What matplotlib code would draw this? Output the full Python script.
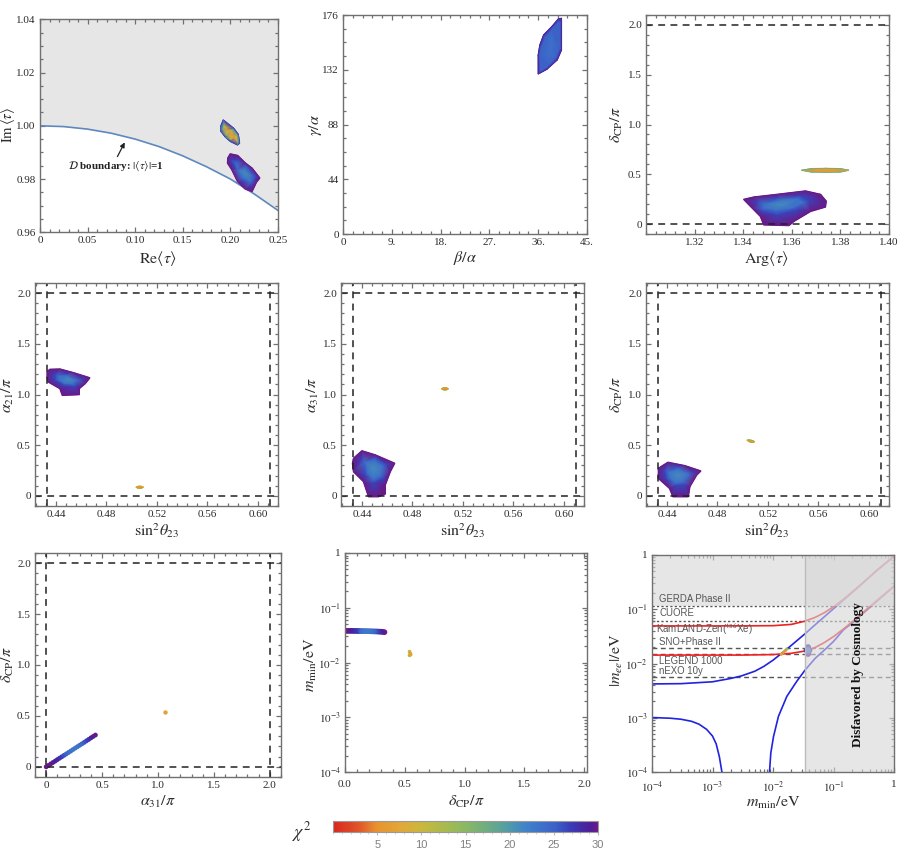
import matplotlib
matplotlib.use("Agg")
import matplotlib.pyplot as plt
import matplotlib.tri as mtri
import numpy as np
from matplotlib.colors import LinearSegmentedColormap
from matplotlib.patches import Polygon
from matplotlib.path import Path
from matplotlib.ticker import LogLocator, MultipleLocator, NullFormatter

plt.rcParams["font.family"] = ["Liberation Serif", "DejaVu Serif"]
plt.rcParams["mathtext.fontset"] = "stix"

W, H = 900, 857
GRAY = "#707070"
TXT = "#2b2b2b"

# colour scale of chi^2
chi_stops = [0, 3, 5, 8, 10, 13, 15, 18, 20, 22, 25, 27, 29, 30]
chi_cols = ["#d9261f", "#e0582a", "#e8942f", "#dfa93a", "#c9b83e", "#a4ba50", "#8bb863",
            "#68a98a", "#4f9aa8", "#3f80cc", "#3c63c8", "#3a3cb8", "#4a1f9a", "#6a1a88"]
cmap = LinearSegmentedColormap.from_list("chi", [(s / 30, c) for s, c in zip(chi_stops, chi_cols)])

# tau plane boundary
bd_re = [0, .025, .05, .075, .1, .125, .15, .175, .2, .225, .25]
bd_im = [1, .9997, .99875, .9972, .995, .9922, .9887, .9846, .98, .9744, .9682]

# each blob: rings of (x, y) from outside in, with a chi2 per ring
t_low_rings = [
    ([.1974, .1999, .2076, .2156, .2226, .2307, .2272, .2227, .2156, .2076, .2016, .1971],
     [.9879, .9894, .9888, .986, .9841, .9804, .9788, .9754, .9763, .9791, .9835, .986]),
    ([.2010, .2090, .2190, .2270, .2225, .2130, .2050],
     [.9870, .9870, .9845, .9808, .9780, .9792, .9840]),
    ([.2065, .2160, .2225, .2210, .2125, .2075], [.9858, .9842, .9815, .9790, .9805, .9835]),
    ([.2156], [.9825]),
]
t_low_chi = [30, 26.5, 23.5, 21]

t_up_rings = [
    ([.1925, .2034, .2083, .2097, .2075, .2, .1946, .19, .19],
     [1.0022, .9991, .9968, .9935, .9928, .9941, .9958, .9979, 1.0]),
    ([.1925, .2025, .2070, .2083, .2005, .1952, .1915],
     [1.0003, .9985, .9965, .9940, .9948, .9965, .9988]),
    ([.1938, .2018, .2062, .2072, .2005, .1955],
     [.9997, .9982, .9962, .9945, .9952, .9970]),
    ([.1965, .2000, .2030, .2045], [.9985, .9975, .9965, .9955]),
]
t_up_chi = [27, 18, 10, 5.5]

ba_rings = [
    ([36.0, 37.6, 39.5, 40.3, 40.3, 39.7, 38.5, 37.0, 36.3, 36.0],
     [128.6, 132.4, 139.9, 147.9, 173.4, 172.8, 166.6, 160.0, 151.9, 143.9]),
    ([36.4, 37.7, 39.3, 40.0, 40.0, 39.6, 38.5, 37.2, 36.6, 36.3],
     [131.0, 134.5, 141.5, 149.0, 170.0, 170.0, 164.5, 158.5, 151.0, 144.0]),
    ([38.2, 38.4], [145.0, 155.0]),
]
ba_chi = [29, 25, 23.5]

arg_low_rings = [
    ([1.3403, 1.3444, 1.354, 1.3656, 1.3718, 1.3741, 1.3738, 1.3677, 1.3608, 1.3588, 1.3485, 1.3471, 1.3437],
     [.247, .27, .297, .331, .297, .23, .172, .128, .027, -.014, -.007, .078, .162]),
    ([1.3458, 1.354, 1.3636, 1.367, 1.3622, 1.354, 1.3478],
     [.213, .264, .28, .23, .145, .095, .128]),
    ([1.349, 1.356, 1.3625, 1.3645, 1.360, 1.353, 1.3485],
     [.205, .245, .25, .215, .165, .14, .16]),
    ([1.3553], [.196]),
]
arg_low_chi = [30, 26.5, 23.5, 21]

arg_up_rings = [
    ([1.364, 1.368, 1.374, 1.38, 1.3835, 1.38, 1.374, 1.368],
     [.54, .558, .56, .558, .54, .522, .52, .522]),
    ([1.367, 1.370, 1.374, 1.378, 1.381, 1.370, 1.374, 1.378],
     [.54, .548, .548, .548, .54, .532, .532, .532]),
]
arg_up_chi = [17, 6]

a21_low_rings = [
    ([.4331, .4352, .4432, .4539, .4667, .4632, .4584, .4584, .4451, .4432, .4339, .4331],
     [1.224, 1.247, 1.25, 1.214, 1.164, 1.109, 1.059, 1.0, .993, 1.059, 1.125, 1.174]),
    ([.4392, .4485, .4605, .4552, .4459, .4392], [1.2, 1.2, 1.148, 1.082, 1.092, 1.141]),
    ([.4420, .4490, .4565, .4530, .4470, .4420], [1.18, 1.185, 1.14, 1.10, 1.105, 1.145]),
    ([.4499], [1.148]),
]
a21_low_chi = [30, 26.5, 23.5, 21]

a21_up_rings = [
    ([.5034, .5048, .5064, .508, .5094, .508, .5064, .5048],
     [.085, .094, .097, .094, .085, .076, .073, .076]),
    ([.5042, .5064, .5086, .5064], [.085, .093, .085, .077]),
]
a21_up_chi = [12, 5]

a31_low_rings = [
    ([.4334, .44, .4505, .4658, .4624, .4584, .4584, .4532, .4453, .4413, .4334, .4326],
     [.37, .443, .403, .321, .239, .108, .02, -.007, -.007, .141, .239, .321]),
    ([.4395, .4505, .4597, .4571, .4492, .4426], [.354, .38, .305, .174, .125, .207]),
    ([.4425, .4500, .4565, .4550, .4490, .4445], [.335, .35, .295, .20, .165, .22]),
    ([.4492], [.272]),
]
a31_low_chi = [30, 26.5, 23.5, 21]

a31_up_rings = [
    ([.503, .5044, .5058, .5072, .5086, .5072, .5058, .5044],
     [1.056, 1.066, 1.069, 1.066, 1.056, 1.046, 1.043, 1.046]),
    ([.5036, .5058, .508, .5058], [1.056, 1.065, 1.056, 1.047]),
]
a31_up_chi = [12, 5]

dcp_low_rings = [
    ([.4333, .4408, .4541, .4667, .4635, .4581, .4568, .4448, .4421, .4333],
     [.271, .33, .297, .245, .206, .092, -.007, -.007, .075, .173]),
    ([.4381, .4488, .4608, .4541, .4461, .4395], [.255, .288, .222, .108, .098, .173]),
    ([.4410, .4490, .4575, .4525, .4465, .4420], [.24, .265, .215, .135, .125, .18]),
    ([.4488], [.206]),
]
dcp_low_chi = [30, 26.5, 23.5, 21]

dcp_up_rings = [
    ([.5034, .5048, .5066, .5085, .5094, .5085, .5066, .5048],
     [.55, .554, .55, .544, .534, .527, .527, .536]),
    ([.5048, .5066, .5088, .5075], [.546, .548, .535, .530]),
]
dcp_up_chi = [13, 5]

# alpha31 vs delta
a31_pts = [0, .02, .04, .06, .08, .10, .12, .14, .16, .18, .20, .22, .24, .26, .28, .30, .32, .34, .36, .38, .40, .42, .44]
d31_pts = [0, .014, .028, .042, .056, .071, .085, .099, .113, .127, .141, .155, .170, .184, .198, .212, .226, .240, .255,
           .269, .284, .298, .312]
c31_pts = [30, 30, 30, 29.5, 29, 28.5, 28, 27, 26, 25, 24, 23.5, 23, 23, 23.5, 24, 25, 26, 27, 28, 29, 29.5, 30]
a31_small = [1.06]
d31_small = [.54]
c31_small = [7]

# delta vs m_min
d_m = [0, .015, .03, .045, .06, .075, .09, .105, .12, .135, .15, .165, .18, .195, .21, .225, .24, .255, .27, .285, .30, .315, .33]
m_m = [.0378, .0378, .0378, .0378, .0378, .0377, .0377, .0376, .0376, .0375, .0375, .0375, .0374, .0373, .0372, .0371,
       .037, .0369, .0368, .0366, .0365, .0362, .0358]
c_m = [30, 30, 30, 29.5, 29, 28.5, 28, 27.5, 27, 25, 24, 23.5, 23, 23, 23.5, 24, 25, 26, 27, 28, 29, 29.5, 30]
d_m_small = [.54, .54, .545, .55]
m_m_small = [.0158, .0135, .0148, .014]
c_m_small = [11, 12, 7, 7]

# |m_ee| bands
m_io_up = [1e-4, 1e-3, 3e-3, .01, .02, .034, .05, .07, .1, .15, .2, .3, .5, 1]
ee_io_up = [.0493, .0493, .0494, .0498, .0525, .0605, .071, .086, .111, .157, .205, .30, .50, .95]
m_io_lo = [1e-4, 1e-3, 3e-3, .01, .02, .034, .05, .07, .1, .15, .2, .3, .5, 1]
ee_io_lo = [.0143, .0143, .0143, .0146, .0154, .0170, .0198, .0242, .0313, .0443, .0577, .085, .14, .265]
m_no_up = [1e-4, 3e-4, 1e-3, 2e-3, 3e-3, 5e-3, 7e-3, .01, .015, .02, .034, .05, .1, .2, .5, 1]
ee_no_up = [.0042, .00425, .0046, .0053, .0059, .0072, .0088, .0115, .0165, .0215, .0355, .052, .102, .20, .50, .95]
m_no_lo1 = [1e-4, 2e-4, 3e-4, 4.5e-4, 6e-4, 8e-4, 1e-3, 1.15e-3, 1.3e-3, 1.43e-3]
ee_no_lo1 = [.00101, .00098, .00094, .00086, .00076, .00061, .00046, .00033, .00019, .0001]
m_no_lo2 = [.00875, .0092, .0102, .0123, .0169, .0246, .034, .05, .07, .1, .146, .2, .5, 1]
ee_no_lo2 = [.0001, .000224, .00045, .00106, .00247, .00466, .0076, .0125, .0175, .0255, .0417, .055, .135, .265]
pt_m_no = [.0137, .0148, .016, .017]
pt_ee_no = [.0148, .016, .0172, .0185]
pt_c_no = [9, 6, 6, 14]
pt_m_io = [.038, .038, .038, .038, .036, .040, .038]
pt_ee_io = [.0150, .0165, .0200, .0180, .0175, .0175, .0175]
pt_c_io = [30, 26, 29, 24, 28, 28, 23]

gerda, cuore, sno, legend_1000, nexo = .114, .061, .0191, .0150, .0057
m_cosmo = .034

cbar_ticks = [5, 10, 15, 20, 25, 30]
log_ticks = [1e-4, 1e-3, 1e-2, 1e-1, 1]
log_labels = [r"$10^{-4}$", r"$10^{-3}$", r"$10^{-2}$", r"$10^{-1}$", "1"]


def box(x0, x1, top, bot):
    return fig.add_axes([x0 / W, 1 - bot / H, (x1 - x0) / W, (bot - top) / H])


def style(ax, xticks, xlabels, xminor, yticks, ylabels, yminor):
    for s in ax.spines.values():
        s.set_color(GRAY)
        s.set_linewidth(1.0)
        s.set_zorder(6)
    ax.set_xticks(xticks, xlabels)
    ax.set_yticks(yticks, ylabels)
    if xminor:
        ax.xaxis.set_minor_locator(MultipleLocator(xminor))
    if yminor:
        ax.yaxis.set_minor_locator(MultipleLocator(yminor))
    ax.tick_params(which="both", direction="in", top=True, right=True, color=GRAY, width=.9,
                   labelsize=8, labelcolor=TXT, pad=3)
    ax.tick_params(which="major", length=3.6)
    ax.tick_params(which="minor", length=2)


def names(ax, xl, yl, xpos, ypos):
    ax.set_xlabel(xl, fontsize=11.5, color=TXT, va="center")
    ax.set_ylabel(yl, fontsize=11.5, color=TXT, va="center")
    ax.xaxis.set_label_coords(xpos[0] / W, 1 - xpos[1] / H, transform=fig.transFigure)
    ax.yaxis.set_label_coords(ypos[0] / W, 1 - ypos[1] / H, transform=fig.transFigure)


def blob(ax, rings, chis, rim_lw=1.2):
    xs = np.concatenate([r[0] for r in rings])
    ys = np.concatenate([r[1] for r in rings])
    cs = np.concatenate([[c] * len(r[0]) for r, c in zip(rings, chis)])
    # delaunay on scaled values, x and y units differ a lot
    tri = mtri.Triangulation(xs / np.ptp(xs), ys / np.ptp(ys))
    edge = np.column_stack(rings[0])
    cx = xs[tri.triangles].mean(axis=1)
    cy = ys[tri.triangles].mean(axis=1)
    keep = Path(edge).contains_points(np.column_stack([cx, cy]), radius=1e-9)
    tri2 = mtri.Triangulation(xs, ys, tri.triangles, mask=~keep)
    rim = cmap(chis[0] / 30)
    ax.add_patch(Polygon(edge, closed=True, fc=rim, ec=rim, lw=rim_lw, joinstyle="round", zorder=3))
    ax.tripcolor(tri2, cs, shading="gouraud", cmap=cmap, vmin=0, vmax=30, zorder=3)


def dots(ax, xs, ys, cs, size):
    order = np.argsort(-np.array(cs))
    ax.scatter(np.array(xs)[order], np.array(ys)[order], c=np.array(cs)[order], cmap=cmap, vmin=0, vmax=30,
               s=size, linewidths=0, zorder=3)


def dashes(ax, xs=(), ys=()):
    for x in xs:
        ax.axvline(x, color="#222222", lw=1.1, ls=(0, (4.5, 3.5)), zorder=4)
    for y in ys:
        ax.axhline(y, color="#222222", lw=1.1, ls=(0, (4.5, 3.5)), zorder=4)


fig = plt.figure(figsize=(W / 100, H / 100), dpi=100)

angle_ticks = [0, .5, 1, 1.5, 2]
angle_labels = ["0", "0.5", "1.0", "1.5", "2.0"]
s23_ticks = [.44, .48, .52, .56, .60]
s23_labels = ["0.44", "0.48", "0.52", "0.56", "0.60"]
s23_lim = (.4234, .616)

# row 1
ax = box(40, 278, 19.3, 232.3)
ax.set_facecolor("#e6e6e6")
ax.fill_between(bd_re, .96, bd_im, color="white", lw=0, zorder=1)
ax.plot(bd_re, bd_im, color="#5f88bf", lw=1.2, zorder=2)
blob(ax, t_low_rings, t_low_chi)
blob(ax, t_up_rings, t_up_chi, rim_lw=.8)
ax.set_xlim(0, .25)
ax.set_ylim(.96, 1.04)
style(ax, [0, .05, .1, .15, .2, .25], ["0", "0.05", "0.10", "0.15", "0.20", "0.25"], .01,
      [.96, .98, 1, 1.02, 1.04], ["0.96", "0.98", "1.00", "1.02", "1.04"], .005)
ax.annotate("", xy=(.0903, .9947), xytext=(.08, .9875),
            arrowprops=dict(arrowstyle="-|>", color="#222222", lw=.9, mutation_scale=7), zorder=5)
ax.text(.0295, .9848, r"$\mathcal{D}$ boundary: $|\langle\tau\rangle|$=1", fontsize=8, fontweight="bold",
        color="#222222", va="center", zorder=5)
names(ax, r"$\mathrm{Re}\langle\tau\rangle$", r"$\mathrm{Im}\,\langle\tau\rangle$", (158, 258), (8, 125))
ax.yaxis.label.set_fontsize(10.5)

ax = box(343, 587, 15, 234)
blob(ax, ba_rings, ba_chi, rim_lw=.8)
ax.set_xlim(0, 45)
ax.set_ylim(0, 176)
style(ax, [0, 9, 18, 27, 36, 45], ["0", "9.", "18.", "27.", "36.", "45."], 1.8,
      [0, 44, 88, 132, 176], ["0", "44", "88", "132", "176"], 11)
names(ax, r"$\beta/\alpha$", r"$\gamma/\alpha$", (465, 258), (316, 125))

ax = box(646, 889, 15, 234)
blob(ax, arg_low_rings, arg_low_chi)
blob(ax, arg_up_rings, arg_up_chi, rim_lw=.5)
dashes(ax, ys=[0, 2])
ax.set_xlim(1.30, 1.40)
ax.set_ylim(-.1, 2.1)
style(ax, [1.32, 1.34, 1.36, 1.38, 1.40], ["1.32", "1.34", "1.36", "1.38", "1.40"], .004,
      angle_ticks, angle_labels, .1)
names(ax, r"$\mathrm{Arg}\langle\tau\rangle$", r"$\delta_{\mathrm{CP}}/\pi$", (767, 258), (617, 125))

# row 2
ax = box(35, 278, 283, 506)
blob(ax, a21_low_rings, a21_low_chi)
blob(ax, a21_up_rings, a21_up_chi, rim_lw=.5)
dashes(ax, xs=[.4333, .61], ys=[0, 2])
ax.set_xlim(*s23_lim)
ax.set_ylim(-.1, 2.1)
style(ax, s23_ticks, s23_labels, .008, angle_ticks, angle_labels, .1)
names(ax, r"$\sin^2\!\theta_{23}$", r"$\alpha_{21}/\pi$", (157, 531), (8, 395))

ax = box(341, 584, 283, 506)
blob(ax, a31_low_rings, a31_low_chi)
blob(ax, a31_up_rings, a31_up_chi, rim_lw=.5)
dashes(ax, xs=[.4333, .61], ys=[0, 2])
ax.set_xlim(*s23_lim)
ax.set_ylim(-.1, 2.1)
style(ax, s23_ticks, s23_labels, .008, angle_ticks, angle_labels, .1)
names(ax, r"$\sin^2\!\theta_{23}$", r"$\alpha_{31}/\pi$", (463, 531), (313, 395))

ax = box(646, 889, 283, 506)
blob(ax, dcp_low_rings, dcp_low_chi)
blob(ax, dcp_up_rings, dcp_up_chi, rim_lw=.5)
dashes(ax, xs=[.4333, .61], ys=[0, 2])
ax.set_xlim(*s23_lim)
ax.set_ylim(-.1, 2.1)
style(ax, s23_ticks, s23_labels, .008, angle_ticks, angle_labels, .1)
names(ax, r"$\sin^2\!\theta_{23}$", r"$\delta_{\mathrm{CP}}/\pi$", (767, 531), (617, 395))

# row 3
ax = box(35, 281, 553, 777)
dots(ax, a31_pts, d31_pts, c31_pts, 12)
dots(ax, a31_small, d31_small, c31_small, 10)
dashes(ax, xs=[0, 2], ys=[0, 2])
ax.set_xlim(-.1, 2.1)
ax.set_ylim(-.1, 2.1)
style(ax, angle_ticks, angle_labels, .1, angle_ticks, angle_labels, .1)
names(ax, r"$\alpha_{31}/\pi$", r"$\delta_{\mathrm{CP}}/\pi$", (158, 802), (8, 665))

ax = box(345, 587, 553, 772)
dots(ax, d_m, m_m, c_m, 17)
dots(ax, d_m_small, m_m_small, c_m_small, 7)
ax.set_yscale("log")
ax.set_xlim(0, 2.025)
ax.set_ylim(1e-4, 1)
style(ax, angle_ticks, ["0.0", "0.5", "1.0", "1.5", "2.0"], .1, log_ticks, log_labels, None)
ax.tick_params(axis="x", which="major", pad=6)
ax.yaxis.set_minor_locator(LogLocator(base=10, subs=range(2, 10), numticks=12))
ax.yaxis.set_minor_formatter(NullFormatter())
names(ax, r"$\delta_{\mathrm{CP}}/\pi$", r"$m_{\mathrm{min}}/\mathrm{eV}$", (466, 802), (311, 665))

ax = box(652, 894, 555, 772)
ax.plot(m_no_up, ee_no_up, color="#2222e0", lw=1.2, zorder=2)
ax.plot(m_no_lo1, ee_no_lo1, color="#2222e0", lw=1.2, zorder=2)
ax.plot(m_no_lo2, ee_no_lo2, color="#2222e0", lw=1.2, zorder=2)
ax.plot(m_io_up, ee_io_up, color="#ee2222", lw=1.2, zorder=2)
ax.plot(m_io_lo, ee_io_lo, color="#ee2222", lw=1.2, zorder=2)
ax.scatter(pt_m_no, pt_ee_no, c=pt_c_no, cmap=cmap, vmin=0, vmax=30, s=5, linewidths=0, zorder=2)
ax.scatter(pt_m_io, pt_ee_io, c=pt_c_io, cmap=cmap, vmin=0, vmax=30, s=18, linewidths=0, zorder=2)
for lev in [gerda, cuore]:
    ax.axhline(lev, color="#555555", lw=1.0, ls=(0, (1.6, 1.6)), zorder=1)
for lev in [sno, legend_1000, nexo]:
    ax.axhline(lev, color="#555555", lw=1.0, ls=(0, (3.5, 2.5)), zorder=1)
ax.axvspan(m_cosmo, 1, color="#d6d6d6", alpha=.6, lw=0, zorder=3)
ax.axhspan(gerda, 1, color="#d6d6d6", alpha=.6, lw=0, zorder=3)
ax.axvline(m_cosmo, color="#bcbcbc", lw=1, zorder=3)
ax.set_xscale("log")
ax.set_yscale("log")
ax.set_xlim(1e-4, 1)
ax.set_ylim(1e-4, 1)
style(ax, log_ticks, log_labels, None, log_ticks, log_labels, None)
ax.tick_params(axis="x", which="major", pad=6)
for axis in [ax.xaxis, ax.yaxis]:
    axis.set_minor_locator(LogLocator(base=10, subs=range(2, 10), numticks=12))
    axis.set_minor_formatter(NullFormatter())
sans = ["Liberation Sans", "DejaVu Sans"]
ax.text(1.3e-4, .155, "GERDA Phase II", family=sans, fontsize=6.9, color="#555555", va="center", zorder=5)
ax.text(1.35e-4, .085, "CUORE", family=sans, fontsize=6.9, color="#555555", va="center", zorder=5)
ax.text(1.15e-4, .0425, r"KamLAND-Zen($^{\mathsf{136}}$Xe)", family=sans, fontsize=7, color="#555555",
        va="center", zorder=5)
ax.text(1.3e-4, .025, "SNO+Phase II", family=sans, fontsize=6.9, color="#555555", va="center", zorder=5)
ax.text(1.3e-4, .011, "LEGEND 1000", family=sans, fontsize=6.9, color="#555555", va="center", zorder=5)
ax.text(1.3e-4, .0074, "nEXO 10y", family=sans, fontsize=6.9, color="#555555", va="center", zorder=5)
ax.text(.254, .00627, "Disfavored by Cosmology", rotation=90, fontsize=9.5, fontweight="bold",
        color="#111111", ha="center", va="center", zorder=5)
names(ax, r"$m_{\mathrm{min}}/\mathrm{eV}$", r"$|m_{ee}|/\mathrm{eV}$", (773, 803), (617, 660))

# colour bar
cax = fig.add_axes([333 / W, 1 - 832 / H, 265 / W, 11 / H])
sm = plt.cm.ScalarMappable(norm=plt.Normalize(0, 30), cmap=cmap)
cb = fig.colorbar(sm, cax=cax, orientation="horizontal", ticks=cbar_ticks)
cb.outline.set_edgecolor("#999999")
cb.outline.set_linewidth(.8)
cax.xaxis.set_minor_locator(MultipleLocator(1))
cax.tick_params(which="major", length=2.5, color="#bbbbbb", labelsize=8, labelcolor="#808080", pad=3)
cax.tick_params(which="minor", length=1.5, color="#cccccc")
for lab in cax.get_xticklabels():
    lab.set_family(sans)
fig.text(302 / W, 1 - 832 / H, r"$\chi^2$", fontsize=13, color=TXT, ha="center", va="center")

fig.savefig("out.png", dpi=100)
